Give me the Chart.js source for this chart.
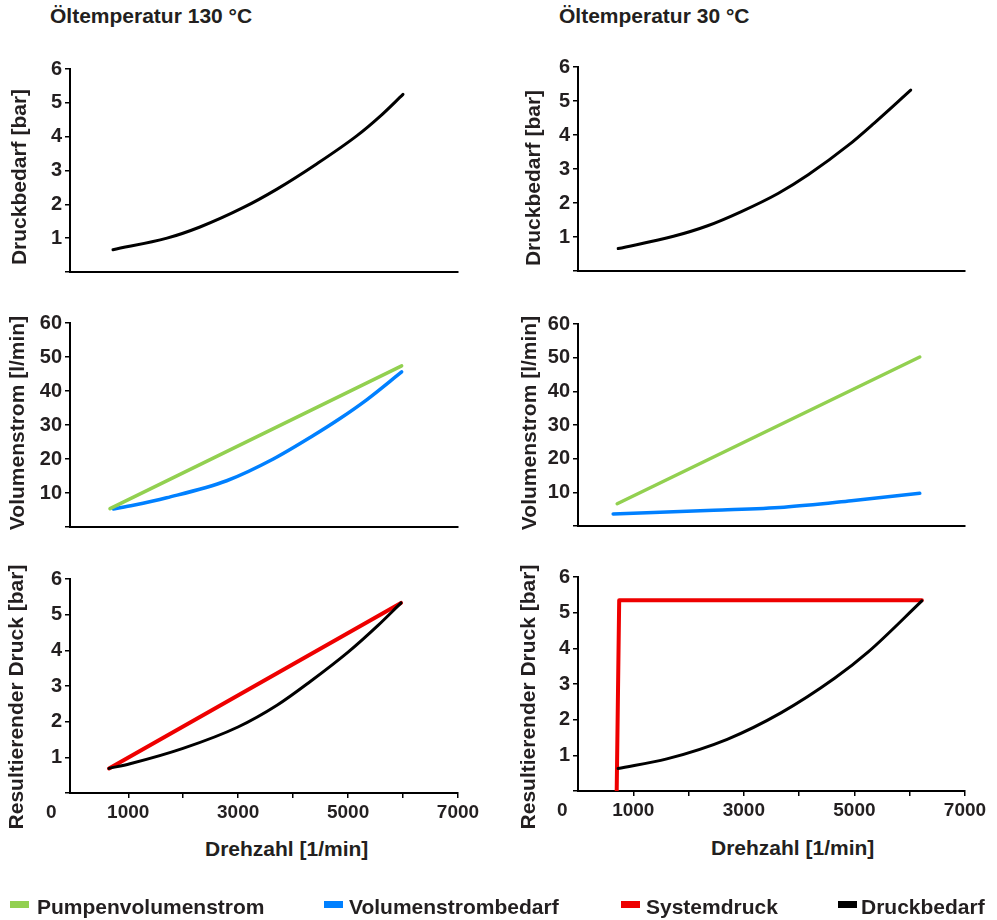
<!DOCTYPE html>
<html>
<head>
<meta charset="utf-8">
<script src="https://cdn.jsdelivr.net/npm/chart.js@4"></script>
<style>
  html, body { margin:0; padding:0; background:#fff; }
  body { width:997px; height:920px; position:relative; overflow:hidden; font-family:"Liberation Sans", Arial, sans-serif; color:#231f20; }
  canvas { position:absolute; }
  .t { position:absolute; font-weight:bold; white-space:nowrap; line-height:1; }
  .yt { position:absolute; font-weight:bold; white-space:nowrap; line-height:1; font-size:21px;
        transform: translate(-50%, -50%) rotate(-90deg); }
  .box { position:absolute; height:7px; width:19px; }
</style>
</head>
<body>
<div class="t" style="left:50px; top:5px; font-size:21px;">Öltemperatur 130 °C</div>
<div class="t" style="left:559px; top:5px; font-size:21px;">Öltemperatur 30 °C</div>

<canvas id="c1"></canvas>
<canvas id="c2"></canvas>
<canvas id="c3"></canvas>
<canvas id="c4"></canvas>
<canvas id="c5"></canvas>
<canvas id="c6"></canvas>

<div class="yt" style="left:18px; top:177px;">Druckbedarf [bar]</div>
<div class="yt" style="left:16px; top:423px;">Volumenstrom [l/min]</div>
<div class="yt" style="left:15px; top:697px;">Resultierender Druck [bar]</div>
<div class="yt" style="left:532px; top:178px;">Druckbedarf [bar]</div>
<div class="yt" style="left:528px; top:423px;">Volumenstrom [l/min]</div>
<div class="yt" style="left:527px; top:697px;">Resultierender Druck [bar]</div>

<div class="t" style="left:46px; top:802px; font-size:19px;">0</div>
<div class="t" style="left:557px; top:800px; font-size:19px;">0</div>
<div class="t" style="left:205px; top:838px; font-size:21px;">Drehzahl [1/min]</div>
<div class="t" style="left:711px; top:837px; font-size:21px;">Drehzahl [1/min]</div>

<div class="box" style="left:10px; top:901px; background:#92d050;"></div>
<div class="t" style="left:37px; top:896px; font-size:21px;">Pumpenvolumenstrom</div>
<div class="box" style="left:324px; top:901px; background:#0080ff;"></div>
<div class="t" style="left:349px; top:896px; font-size:21px;">Volumenstrombedarf</div>
<div class="box" style="left:621px; top:901px; background:#ee0000;"></div>
<div class="t" style="left:646px; top:896px; font-size:21px;">Systemdruck</div>
<div class="box" style="left:838px; top:901px; background:#000000;"></div>
<div class="t" style="left:861px; top:896px; font-size:21px;">Druckbedarf</div>

<script>
// ---------- data (rpm = Drehzahl [1/min]) ----------
// Öltemperatur 130 °C
const rpmDruckTop130 = [722, 1705, 2305, 3088, 3706, 4434, 5163, 5581, 5999];
const druckTop130    = [0.66, 1.0, 1.33, 1.9, 2.45, 3.2, 4.03, 4.6, 5.25];
const rpmPumpe130    = [668, 5975];
const pumpe130       = [5.4, 47.4];
const rpmBedarf130   = [728, 1092, 1699, 2791, 3639, 4367, 4853, 5338, 5975];
const bedarf130      = [5.3, 6.4, 8.6, 13.6, 20.0, 26.9, 31.9, 37.4, 45.6];
const rpmSystem130   = [650, 5963];
const system130      = [0.69, 5.33];
const rpmDruckBot130 = [650, 1032, 1996, 2997, 3706, 4307, 5000, 5545, 5963];
const druckBot130    = [0.69, 0.82, 1.25, 1.85, 2.46, 3.12, 3.95, 4.70, 5.33];
// Öltemperatur 30 °C
const rpmDruckTop30  = [727, 1727, 2345, 2945, 3618, 4164, 4891, 5364, 6018];
const druckTop30     = [0.66, 1.02, 1.33, 1.74, 2.28, 2.83, 3.70, 4.36, 5.32];
const rpmPumpe30     = [709, 6182];
const pumpe30        = [6.6, 50.2];
const rpmBedarf30    = [636, 2455, 3727, 4945, 6182];
const bedarf30       = [3.6, 4.7, 5.6, 7.5, 9.7];
const rpmSystem30    = [700, 745, 6220];
const system30       = [0, 5.35, 5.35];
const rpmDruckBot30  = [725, 1607, 2699, 3670, 4641, 5250, 6220];
const druckBot30     = [0.63, 0.90, 1.45, 2.19, 3.16, 3.90, 5.33];
// tick labels
const xTickValues = [1000, 2000, 3000, 4000, 5000, 6000, 7000];
const xTickLabels = ['1000', '', '3000', '', '5000', '', '7000'];
const druckTicks = [0, 1, 2, 3, 4, 5, 6];
const volTicks = [0, 10, 20, 30, 40, 50, 60];

const GREEN = '#92d050', BLUE = '#0080ff', RED = '#ee0000', BLACK = '#000000';
const TXT = '#231f20';
const FONT = "'Liberation Sans', Arial, sans-serif";

function pts(xs, ys) { return xs.map((x, i) => ({x: x, y: ys[i]})); }
function ds(xs, ys, color, w, smooth) {
  return { data: pts(xs, ys), borderColor: color, backgroundColor: color, borderWidth: w,
           pointRadius: 0, tension: smooth ? 0.4 : 0, cubicInterpolationMode: smooth ? 'monotone' : 'default',
           borderCapStyle: 'round', borderJoinStyle: 'round', fill: false };
}

function make(id, cfg) {
  const el = document.getElementById(id);
  el.style.left = cfg.left + 'px';
  el.style.top = cfg.top + 'px';
  el.width = cfg.width; el.height = cfg.height;
  el.style.width = cfg.width + 'px'; el.style.height = cfg.height + 'px';
  const yTicks = cfg.yTicks;
  new Chart(el, {
    type: 'line',
    data: { datasets: cfg.datasets },
    options: {
      responsive: false, animation: false, devicePixelRatio: 1,
      layout: { padding: { top: 12, right: 30, bottom: 0, left: 0 } },
      plugins: { legend: { display: false }, tooltip: { enabled: false } },
      scales: {
        x: {
          type: 'linear', min: cfg.xmin, max: 7000,
          afterBuildTicks: s => { s.ticks = xTickValues.map(v => ({value: v})); },
          afterFit: s => { s.height = cfg.xH; },
          border: { display: true, color: '#000', width: 2 },
          grid: { display: true, drawOnChartArea: false, drawTicks: cfg.xTicks, tickLength: 5, color: '#000', lineWidth: 1.5 },
          ticks: {
            display: cfg.xTicks, autoSkip: false, maxRotation: 0, padding: 3, color: TXT,
            font: { family: FONT, size: 19, weight: 'bold' },
            callback: v => { const i = xTickValues.indexOf(v); return i >= 0 ? xTickLabels[i] : ''; }
          }
        },
        y: {
          type: 'linear', min: yTicks[0], max: yTicks[yTicks.length - 1],
          afterBuildTicks: s => { s.ticks = yTicks.map(v => ({value: v})); },
          afterFit: s => { s.width = cfg.yW; },
          border: { display: true, color: '#000', width: 2 },
          grid: { display: true, drawOnChartArea: false, drawTicks: true, tickLength: 5, color: '#000', lineWidth: 1.5 },
          ticks: {
            autoSkip: false, padding: 3, color: TXT,
            font: { family: FONT, size: 20, weight: 'bold' },
            callback: v => (v === 0 ? '' : String(v))
          }
        }
      }
    }
  });
}

const L = { left: 0, width: 488, yW: 70, xmin: -60 };
const R = { left: 515, width: 480, yW: 63, xmin: 0 };

make('c1', Object.assign({}, L, { top: 54, height: 12 + 217 + 4, xH: 4, xTicks: false, yTicks: druckTicks,
  datasets: [ ds(rpmDruckTop130, druckTop130, BLACK, 3, true) ] }));
make('c2', Object.assign({}, L, { top: 308, height: 12 + 218 + 4, xH: 4, xTicks: false, yTicks: volTicks,
  datasets: [ ds(rpmPumpe130, pumpe130, GREEN, 3.5, false), ds(rpmBedarf130, bedarf130, BLUE, 3.5, true) ] }));
make('c3', Object.assign({}, L, { top: 564, height: 12 + 217 + 30, xH: 30, xTicks: true, yTicks: druckTicks,
  datasets: [ ds(rpmDruckBot130, druckBot130, BLACK, 3, true), ds(rpmSystem130, system130, RED, 4, false) ] }));
make('c4', Object.assign({}, R, { top: 52, height: 12 + 218 + 4, xH: 4, xTicks: false, yTicks: druckTicks,
  datasets: [ ds(rpmDruckTop30, druckTop30, BLACK, 3, true) ] }));
make('c5', Object.assign({}, R, { top: 309, height: 12 + 216 + 4, xH: 4, xTicks: false, yTicks: volTicks,
  datasets: [ ds(rpmPumpe30, pumpe30, GREEN, 3.5, false), ds(rpmBedarf30, bedarf30, BLUE, 3.5, true) ] }));
make('c6', Object.assign({}, R, { top: 562, height: 12 + 217 + 30, xH: 30, xTicks: true, yTicks: druckTicks,
  datasets: [ ds(rpmDruckBot30, druckBot30, BLACK, 3, true), ds(rpmSystem30, system30, RED, 4, false) ] }));
</script>
</body>
</html>
